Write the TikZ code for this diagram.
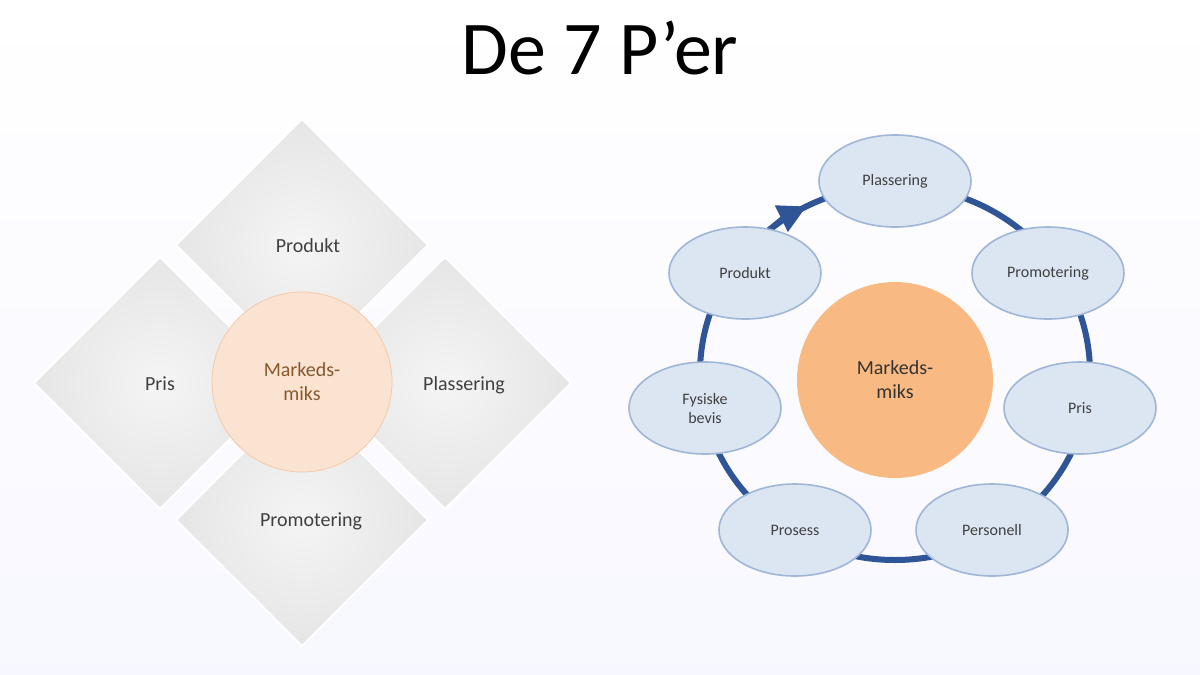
\documentclass[tikz,border=0pt]{standalone}
\usepackage{fontspec}
\setmainfont{Carlito}
\usetikzlibrary{shapes.geometric,arrows.meta}
\definecolor{ringblue}{HTML}{2F5597}
\definecolor{ellfill}{HTML}{DCE6F2}
\definecolor{elledge}{HTML}{9FB6D6}
\definecolor{peach}{HTML}{FBE3D2}
\definecolor{peachedge}{HTML}{F5C9A8}
\definecolor{orangec}{HTML}{F8BA82}
\tikzset{
  dia/.style={draw=white,line width=1pt,inner color=gray!8,outer color=gray!20},
  pel/.style={ellipse,draw=elledge,line width=0.8pt,fill=ellfill,minimum width=76pt,minimum height=46pt,font=\fontsize{8pt}{9.5pt}\selectfont,text=black!75,align=center},
  lbl/.style={font=\fontsize{10pt}{12pt}\selectfont,text=black!75,align=center}
}
\begin{document}
\begin{tikzpicture}[x=0.5pt,y=-0.5pt]
\useasboundingbox[top color=white,bottom color=blue!3] (0,0) rectangle (1200,675);
\node (title) at (600,48) {\fontsize{38pt}{44pt}\selectfont De 7 P’er};
% left diamonds
\foreach \n/\cx/\cy in {dp/302/245, dl/160/383, dr/445/383, db/302/520}{
  \fill[dia] (\cx,\cy-126) -- (\cx+126,\cy) -- (\cx,\cy+126) -- (\cx-126,\cy) -- cycle;
}
\node[lbl] (lp) at (308,246) {Produkt};
\node[lbl] (ll) at (160,384) {Pris};
\node[lbl] (lr) at (464,385) {Plassering};
\node[lbl] (lb) at (311,521) {Promotering};
\node[circle,draw=peachedge,fill=peach,minimum size=90pt,lbl,text=brown!70!black] (lc) at (302,382) {Markeds-\\miks};
% right cycle
\draw[ringblue,line width=3pt] (895,373) circle[x radius=195,y radius=187];
\draw[ringblue,line width=3pt,-{Triangle[length=14pt,width=14pt]}] (895,373) ++(-135:195 and 187) arc[start angle=-135,end angle=-117,x radius=195,y radius=187];
\node[circle,fill=orangec,minimum size=98pt,lbl,text=black!80] (rc) at (895,380) {Markeds-\\miks};
\node[pel] (e1) at (895,181) {Plassering};
\node[pel] (e2) at (1048,273) {Promotering};
\node[pel] (e3) at (1080,408) {Pris};
\node[pel] (e4) at (992,530) {Personell};
\node[pel] (e5) at (795,530) {Prosess};
\node[pel] (e6) at (705,408) {Fysiske\\bevis};
\node[pel] (e7) at (745,273) {Produkt};
\end{tikzpicture}
\end{document}
